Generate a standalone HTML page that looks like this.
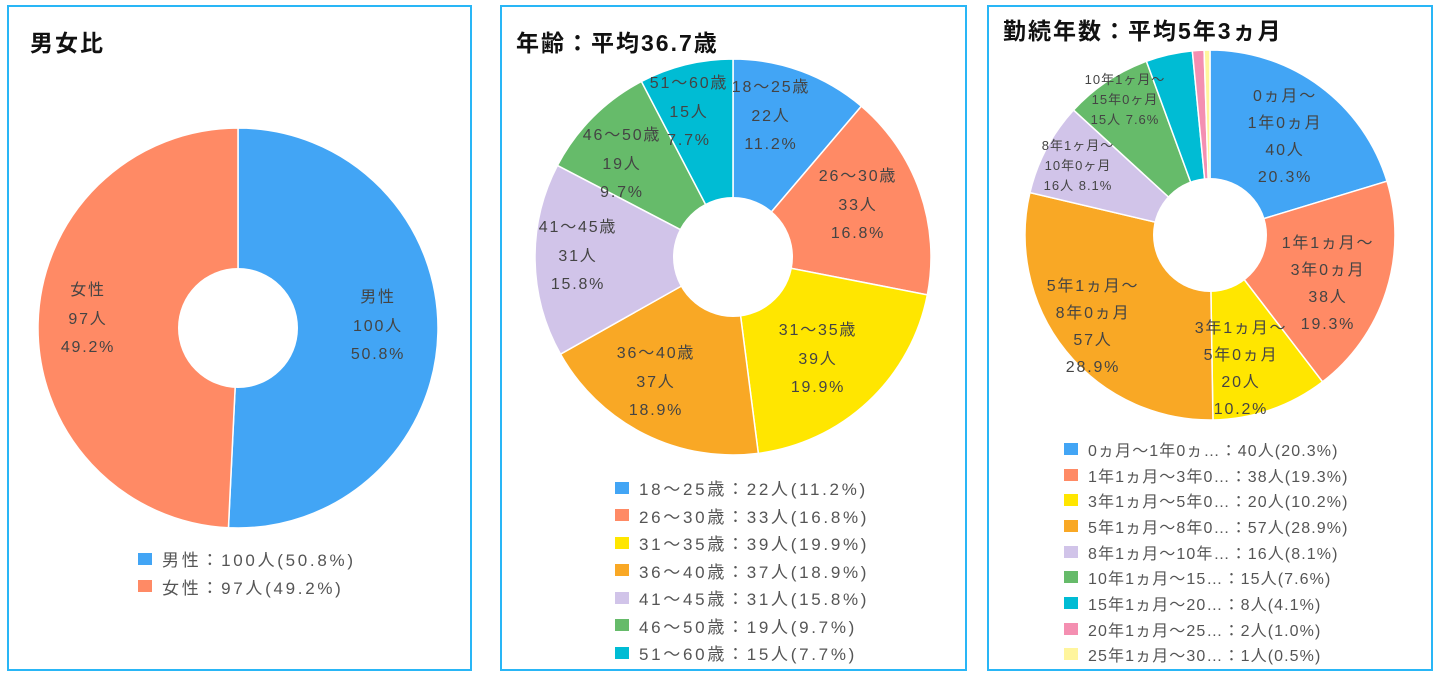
<!DOCTYPE html><html><head><meta charset="utf-8"><style>
body{margin:0;width:1440px;height:676px;background:#fff;position:relative;font-family:"Liberation Sans","Noto Sans CJK JP",sans-serif;overflow:hidden}
.p{position:absolute;border:2px solid #29b6f6;box-sizing:border-box}
.t{position:absolute;font-weight:bold;font-size:23px;letter-spacing:2px;color:#111}
.l{position:absolute;font-size:16px;letter-spacing:1.8px;color:#444;text-align:center;line-height:28.5px;white-space:nowrap;transform:translateX(-50%)}
.s{font-size:13px;line-height:20px;letter-spacing:1px}
.lg{position:absolute;font-size:17px;letter-spacing:2.7px;color:#555;white-space:nowrap}
.lg div{height:27.5px;display:flex;align-items:center}
.lg span{display:inline-block;width:14px;height:12px;margin-right:10px}
#lg3{font-size:16px;letter-spacing:1.1px}
#lg3 div{height:25.7px}
svg{position:absolute;left:0;top:0}
</style></head><body>
<div class="p" style="left:7px;top:5px;width:465px;height:666px"></div>
<div class="p" style="left:500px;top:5px;width:467px;height:666px"></div>
<div class="p" style="left:987px;top:5px;width:446px;height:666px"></div>
<div class="t" style="left:30px;top:24px">男女比</div>
<div class="t" style="left:516px;top:24px">年齢：平均36.7歳</div>
<div class="t" style="left:1003px;top:12px">勤続年数：平均5年3ヵ月</div>
<svg id="s" width="1440" height="676"></svg>
<div class="l" style="left:378px;top:284px">男性<br>100人<br>50.8%</div>
<div class="l" style="left:88px;top:277px">女性<br>97人<br>49.2%</div>
<div class="l" style="left:771px;top:74px">18～25歳<br>22人<br>11.2%</div>
<div class="l" style="left:858px;top:163px">26～30歳<br>33人<br>16.8%</div>
<div class="l" style="left:818px;top:317px">31～35歳<br>39人<br>19.9%</div>
<div class="l" style="left:656px;top:340px">36～40歳<br>37人<br>18.9%</div>
<div class="l" style="left:578px;top:214px">41～45歳<br>31人<br>15.8%</div>
<div class="l" style="left:622px;top:122px">46～50歳<br>19人<br>9.7%</div>
<div class="l" style="left:689px;top:70px">51～60歳<br>15人<br>7.7%</div>
<div class="l" style="left:1285px;top:83px;line-height:27px">0ヵ月～<br>1年0ヵ月<br>40人<br>20.3%</div>
<div class="l" style="left:1328px;top:230px;line-height:27px">1年1ヵ月～<br>3年0ヵ月<br>38人<br>19.3%</div>
<div class="l" style="left:1241px;top:315px;line-height:27px">3年1ヵ月～<br>5年0ヵ月<br>20人<br>10.2%</div>
<div class="l" style="left:1093px;top:273px;line-height:27px">5年1ヵ月～<br>8年0ヵ月<br>57人<br>28.9%</div>
<div class="l s" style="left:1078px;top:136px">8年1ヶ月～<br>10年0ヶ月<br>16人 8.1%</div>
<div class="l s" style="left:1125px;top:70px">10年1ヶ月～<br>15年0ヶ月<br>15人 7.6%</div>
<div class="lg" style="left:138px;top:545px">
<div><span style="background:#42a5f5"></span>男性：100人(50.8%)</div>
<div><span style="background:#ff8a65"></span>女性：97人(49.2%)</div></div>
<div class="lg" style="left:615px;top:474px">
<div><span style="background:#42a5f5"></span>18～25歳：22人(11.2%)</div>
<div><span style="background:#ff8a65"></span>26～30歳：33人(16.8%)</div>
<div><span style="background:#ffe600"></span>31～35歳：39人(19.9%)</div>
<div><span style="background:#f9a825"></span>36～40歳：37人(18.9%)</div>
<div><span style="background:#d1c4e9"></span>41～45歳：31人(15.8%)</div>
<div><span style="background:#66bb6a"></span>46～50歳：19人(9.7%)</div>
<div><span style="background:#00bcd4"></span>51～60歳：15人(7.7%)</div></div>
<div class="lg" id="lg3" style="left:1064px;top:436px">
<div><span style="background:#42a5f5"></span>0ヵ月～1年0ヵ…：40人(20.3%)</div>
<div><span style="background:#ff8a65"></span>1年1ヵ月～3年0…：38人(19.3%)</div>
<div><span style="background:#ffe600"></span>3年1ヵ月～5年0…：20人(10.2%)</div>
<div><span style="background:#f9a825"></span>5年1ヵ月～8年0…：57人(28.9%)</div>
<div><span style="background:#d1c4e9"></span>8年1ヵ月～10年…：16人(8.1%)</div>
<div><span style="background:#66bb6a"></span>10年1ヵ月～15…：15人(7.6%)</div>
<div><span style="background:#00bcd4"></span>15年1ヵ月～20…：8人(4.1%)</div>
<div><span style="background:#f48fb1"></span>20年1ヵ月～25…：2人(1.0%)</div>
<div><span style="background:#fff59d"></span>25年1ヵ月～30…：1人(0.5%)</div></div>
<script>
var C=["#42a5f5","#ff8a65","#ffe600","#f9a825","#d1c4e9","#66bb6a","#00bcd4","#f48fb1","#fff59d"];
var s=document.getElementById('s'),h='';
function pie(cx,cy,r,ri,v){var t=v.reduce((a,b)=>a+b,0),a=0;
v.forEach(function(x,i){var b=a+x/t*2*Math.PI;
var p=(q,R)=>[cx+R*Math.sin(q),cy-R*Math.cos(q)];
var A=p(a,r),B=p(b,r),lg=(b-a)>Math.PI?1:0;
h+='<path d="M'+cx+' '+cy+'L'+A+'A'+r+' '+r+' 0 '+lg+' 1 '+B+'Z" fill="'+C[i]+'" stroke="#fff" stroke-width="1.5"/>';a=b;});
h+='<circle cx="'+cx+'" cy="'+cy+'" r="'+ri+'" fill="#fff"/>';}
pie(238,328,200,60,[100,97]);
pie(733,257,198,60,[22,33,39,37,31,19,15]);
pie(1210,235,185,57,[40,38,20,57,16,15,8,2,1]);
s.innerHTML=h;
</script>
</body></html>
